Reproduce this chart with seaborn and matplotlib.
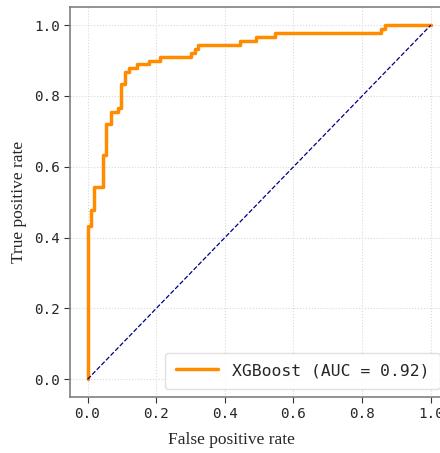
import matplotlib
matplotlib.use("Agg")
import matplotlib.pyplot as plt
import seaborn as sns
import pandas as pd

fpr = [0.0, 0.0, 0.011, 0.020, 0.044, 0.054, 0.067, 0.090, 0.098, 0.108, 0.120,
       0.144, 0.178, 0.211, 0.300, 0.312, 0.322, 0.445, 0.490, 0.545, 0.856, 0.866, 1.0]
tpr = [0.0, 0.433, 0.478, 0.544, 0.633, 0.722, 0.756, 0.767, 0.833, 0.867, 0.878,
       0.889, 0.900, 0.911, 0.922, 0.933, 0.944, 0.956, 0.967, 0.978, 0.989, 1.0, 1.0]
diag = [0.0, 1.0]
auc_label = "XGBoost (AUC = 0.92)"
ticks = [0.0, 0.2, 0.4, 0.6, 0.8, 1.0]
tick_labels = ["0.0", "0.2", "0.4", "0.6", "0.8", "1.0"]

sns.set_style("white")
plt.rcParams["font.family"] = ["DejaVu Sans Mono"]

fig = plt.figure(figsize=(4.4, 4.53), dpi=100)
ax = fig.add_axes([0.160, 0.1236, 0.858, 0.860])

df = pd.DataFrame({"fpr": fpr, "tpr": tpr})
sns.lineplot(data=df, x="fpr", y="tpr", ax=ax, sort=False, estimator=None,
             drawstyle="steps-post", color="darkorange", lw=2.5, label=auc_label)
sns.lineplot(x=diag, y=diag, ax=ax, color="navy", lw=0.9, linestyle="--",
             sort=False, estimator=None)

ax.set_xlim(-0.05, 1.05)
ax.set_ylim(-0.05, 1.05)
ax.set_xticks(ticks)
ax.set_xticklabels(tick_labels)
ax.set_yticks(ticks)
ax.set_yticklabels(tick_labels)
ax.tick_params(axis="both", labelsize=10.3, length=4, width=0.8, direction="out",
               color="#333333", left=True, bottom=True)
ax.grid(True, linestyle=":", color="#d9d9d9", lw=0.8)
for s in ax.spines.values():
    s.set_color("#808080")
    s.set_linewidth(1.2)

ax.set_xlabel("False positive rate", family="Liberation Serif", fontsize=12.5)
ax.xaxis.set_label_coords(0.4265, -0.110)
ax.xaxis.label.set_va("center")
ax.set_ylabel("True positive rate", family="Liberation Serif", fontsize=12.5)
ax.yaxis.set_label_coords(-0.135, 0.5)
ax.yaxis.label.set_va("center")

leg = ax.legend(loc="lower right", fontsize=11.8, handlelength=2.6, frameon=True,
                fancybox=True, edgecolor="#dddddd", framealpha=0.9, borderpad=0.65)

fig.savefig("out.png", dpi=100)
